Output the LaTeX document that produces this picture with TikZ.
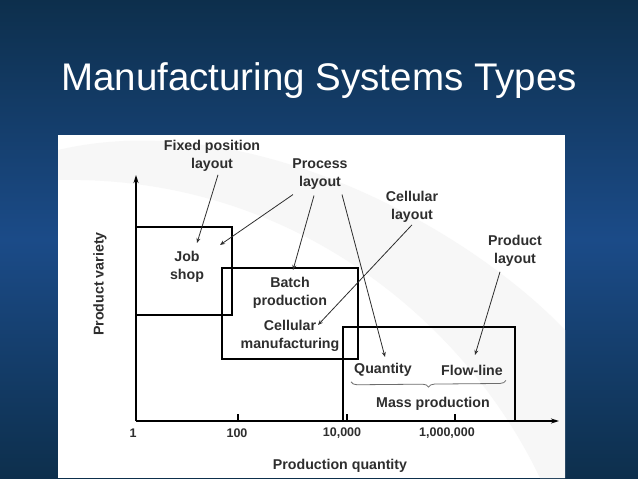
\documentclass[tikz,border=0pt]{standalone}
\usepackage{fontspec}
\setmainfont{Liberation Sans}
\usepackage{xcolor}
\usetikzlibrary{arrows.meta,decorations.pathreplacing,calc}

\definecolor{slideblue}{HTML}{1B4B88}
\definecolor{slidedark}{HTML}{0D2F4C}
\definecolor{inkgray}{HTML}{2E2E2E}

\tikzset{
  lbl/.style={font=\fontsize{14.2}{18}\selectfont\bfseries, text=inkgray, align=center, inner sep=0pt},
  ticklbl/.style={font=\fontsize{12.5}{15}\selectfont\bfseries, text=inkgray, inner sep=0pt},
  regionbox/.style={draw=black, line width=2.4pt},
  ptr/.style={draw=inkgray, line width=0.8pt, -{Stealth[length=5pt,width=4pt]}},
  axis/.style={draw=black, line width=1.4pt, -{Stealth[length=8pt,width=5pt]}},
}

\begin{document}
\begin{tikzpicture}[x=1pt,y=-1pt]
\useasboundingbox (0,0) rectangle (638,479);
\shade[top color=slidedark, bottom color=slidedark, middle color=slideblue] (0,0) rectangle (638,479);
\fill[white] (58,135) rectangle (565,478);
\begin{scope}
\clip (58,135) rectangle (565,478);
\fill[black!3] (58,150) .. controls (250,105) and (470,230) .. (565,330) -- (565,478) -- (540,478) .. controls (470,330) and (300,175) .. (58,180) -- cycle;
\end{scope}

\node[anchor=base, font=\fontsize{38.5}{44}\selectfont, text=white] (title) at (319,90) {Manufacturing Systems Types};

\coordinate (origin) at (136,421);
\coordinate (ytip) at (136,175);
\coordinate (xtip) at (559,421);
\draw[axis] (origin) -- (ytip);
\draw[axis] (origin) -- (xtip);
\foreach \tx in {238,347,455}
  \draw[line width=1.2pt] (\tx,421) -- (\tx,414);

\node[ticklbl] (t1) at (133,433) {1};
\node[ticklbl] (t100) at (237,433) {100};
\node[ticklbl] (t10k) at (342,433) {10,000};
\node[ticklbl] (t1m) at (447,433) {1,000,000};
\node[lbl] (xlabel) at (340,466) {Production quantity};
\node[lbl, rotate=90] (ylabel) at (100,284) {Product variety};

\draw[regionbox] (136,227) rectangle (232,315);
\draw[regionbox] (222,268) rectangle (358,359);
\draw[regionbox] (343,327) rectangle (515,421);

\node[lbl] (job) at (187,267) {Job\\shop};
\node[lbl] (batch) at (290,293) {Batch\\production};
\node[lbl] (cellman) at (290,336) {Cellular\\manufacturing};
\node[lbl] (qty) at (383,370) {Quantity};
\node[lbl] (flow) at (472,370) {Flow-line};
\node[lbl] (mass) at (433,404) {Mass production};
\draw[inkgray!70, line width=0.8pt, decorate, decoration={brace, mirror, amplitude=6pt}] ($(qty.south west)+(-3,5)$) -- ($(flow.south east)+(3,5)$);

\node[lbl] (fixed) at (212,156) {Fixed position\\layout};
\node[lbl] (process) at (320,174) {Process\\layout};
\node[lbl] (celllay) at (412,207) {Cellular\\layout};
\node[lbl] (prodlay) at (515,251) {Product\\layout};

\coordinate (jobpt) at (197,243);
\coordinate (jobpt2) at (220,245);
\coordinate (batchpt) at (293,270);
\coordinate (qtypt) at (385,357);
\coordinate (cellpt) at (318,325);
\coordinate (flowpt) at (475,355);

\draw[ptr] ($(fixed.south)+(6,3)$) -- (jobpt);
\draw[ptr] ($(process.south)+(-27,5)$) -- (jobpt2);
\draw[ptr] ($(process.south)+(-6,6)$) -- (batchpt);
\draw[ptr] ($(process.south)+(22,5)$) -- (qtypt);
\draw[ptr] ($(celllay.south)+(0,2)$) -- (cellpt);
\draw[ptr] ($(prodlay.south)+(-15,5)$) -- (flowpt);
\end{tikzpicture}
\end{document}
